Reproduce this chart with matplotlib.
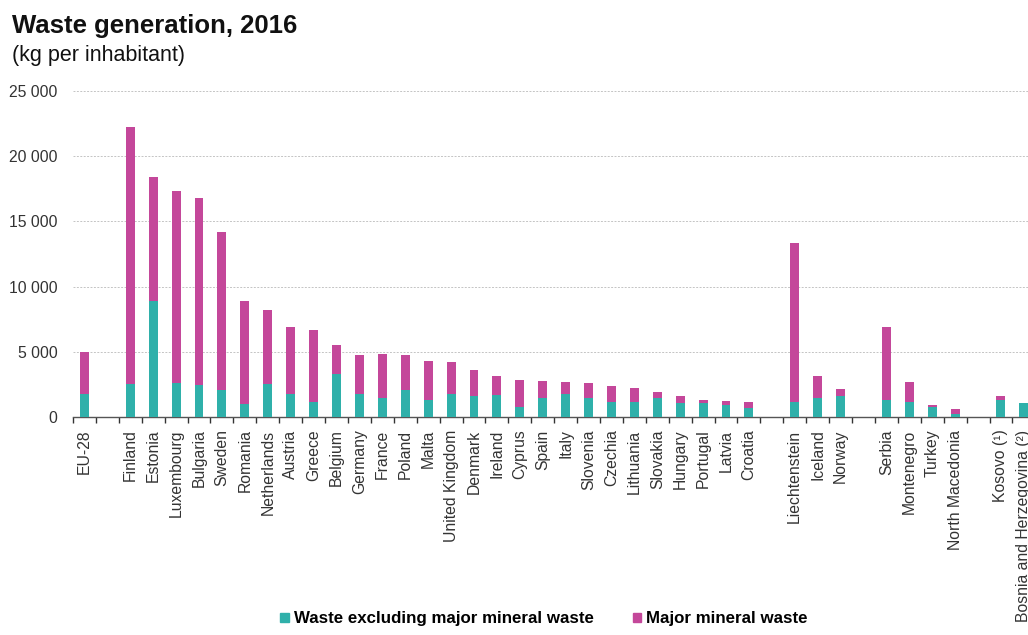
import numpy as np
import matplotlib
matplotlib.use('Agg')
import matplotlib.pyplot as plt
from matplotlib.patches import Patch
from matplotlib.ticker import FuncFormatter, FixedLocator

plt.rcParams['font.family'] = ['Liberation Sans', 'DejaVu Sans']

# '' marks an empty slot separating country groups
countries = ['EU-28', '',
             'Finland', 'Estonia', 'Luxembourg', 'Bulgaria', 'Sweden', 'Romania',
             'Netherlands', 'Austria', 'Greece', 'Belgium', 'Germany', 'France',
             'Poland', 'Malta', 'United Kingdom', 'Denmark', 'Ireland', 'Cyprus',
             'Spain', 'Italy', 'Slovenia', 'Czechia', 'Lithuania', 'Slovakia',
             'Hungary', 'Portugal', 'Latvia', 'Croatia', '',
             'Liechtenstein', 'Iceland', 'Norway', '',
             'Serbia', 'Montenegro', 'Turkey', 'North Macedonia', '',
             'Kosovo (¹)', 'Bosnia and Herzegovina (²)']

# total waste generated, kg per inhabitant
total = [4950, np.nan,
         22250, 18400, 17300, 16800, 14200, 8900,
         8200, 6900, 6650, 5500, 4750, 4850,
         4750, 4280, 4200, 3620, 3180, 2840,
         2760, 2660, 2580, 2350, 2240, 1920,
         1580, 1320, 1210, 1130, np.nan,
         13340, 3160, 2110, np.nan,
         6890, 2650, 950, 590, np.nan,
         1600, 1080]

# waste excluding major mineral waste
non_mineral = [1750, np.nan,
               2500, 8900, 2600, 2450, 2050, 980,
               2500, 1800, 1180, 3300, 1800, 1420,
               2100, 1300, 1780, 1600, 1680, 730,
               1450, 1760, 1450, 1130, 1130, 1420,
               1050, 1080, 950, 690, np.nan,
               1160, 1470, 1600, np.nan,
               1340, 1130, 770, 260, np.nan,
               1340, 1080]

teal = '#2fb0aa'
magenta = '#c4479a'

x = np.arange(len(countries))
non_mineral = np.array(non_mineral, dtype=float)
mineral = np.array(total, dtype=float) - non_mineral

fig = plt.figure(figsize=(10.28, 6.35), dpi=100)
ax = fig.add_axes([73 / 1028, (635 - 417) / 635, 1 - 73 / 1028, (417 - 91) / 635])

width = 0.39
ax.bar(x, non_mineral, width, color=teal, zorder=3)
ax.bar(x, mineral, width, bottom=non_mineral, color=magenta, zorder=3)

ax.set_xlim(-0.5, 41.18)
ax.set_ylim(0, 25000)
ax.set_yticks(np.arange(0, 25001, 5000))
ax.yaxis.set_major_formatter(FuncFormatter(lambda v, p: f'{int(v):,}'.replace(',', ' ')))
ax.tick_params(axis='y', length=0, pad=11, labelsize=11.3, labelcolor='#333333')
ax.grid(axis='y', color='#c4c4c4', linestyle=(0, (2, 1.5)), linewidth=0.7, zorder=0)

ax.set_xticks(x)
ax.set_xticklabels(countries, rotation=90, fontsize=11.3, color='#333333')
ax.tick_params(axis='x', which='major', length=0, pad=9)
ax.xaxis.set_minor_locator(FixedLocator(np.arange(-0.5, len(countries), 1)))
ax.tick_params(axis='x', which='minor', length=4, width=1, color='#333333', direction='out')

for side in ['top', 'right', 'left']:
    ax.spines[side].set_visible(False)
ax.spines['bottom'].set_color('#555555')
ax.spines['bottom'].set_linewidth(1.0)

fig.text(12 / 1028, 1 - 26 / 635, 'Waste generation, 2016', fontsize=18.5,
         fontweight='bold', va='center', ha='left', color='#111111')
fig.text(12 / 1028, 1 - 55 / 635, '(kg per inhabitant)', fontsize=15.5,
         va='center', ha='left', color='#111111')

handles = [Patch(color=teal, label='Waste excluding major mineral waste'),
           Patch(color=magenta, label='Major mineral waste')]
fig.legend(handles=handles, loc='center', bbox_to_anchor=(544 / 1028, 1 - 619 / 635),
           ncol=2, frameon=False, prop={'weight': 'bold', 'size': 12.2},
           handlelength=0.5, handleheight=0.5, handletextpad=0.3, columnspacing=2.3)

fig.savefig('out.png', dpi=100)
